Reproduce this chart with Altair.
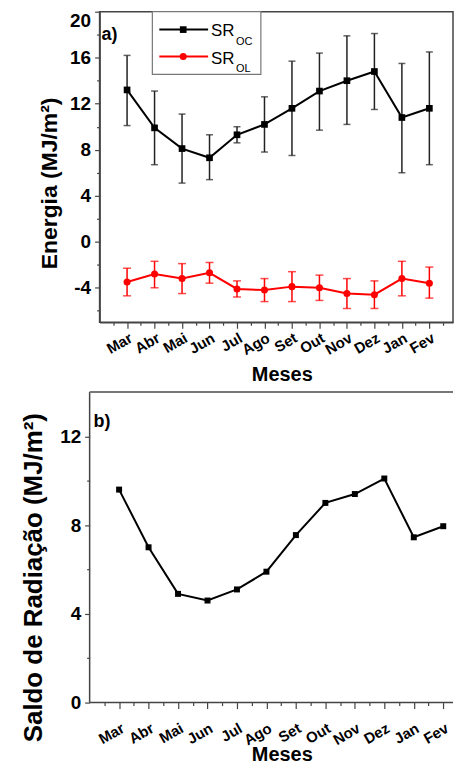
import altair as alt
import pandas as pd

# ---------------- data ----------------
months = ["Mar", "Abr", "Mai", "Jun", "Jul", "Ago", "Set", "Out", "Nov", "Dez", "Jan", "Fev"]
month_idx = list(range(1, 13))

oc_mean = [13.2, 9.9, 8.1, 7.3, 9.3, 10.2, 11.6, 13.1, 14.0, 14.8, 10.8, 11.6]
oc_hi = [16.2, 13.1, 11.1, 9.3, 10.0, 12.6, 15.7, 16.4, 17.9, 18.1, 15.5, 16.5]
oc_lo = [10.1, 6.7, 5.1, 5.4, 8.6, 7.8, 7.5, 9.7, 10.2, 11.5, 6.0, 6.7]

ol_mean = [-3.5, -2.8, -3.2, -2.7, -4.1, -4.2, -3.9, -4.0, -4.5, -4.6, -3.2, -3.6]
ol_hi = [-2.3, -1.7, -1.9, -1.8, -3.4, -3.2, -2.6, -2.9, -3.2, -3.4, -1.7, -2.2]
ol_lo = [-4.7, -4.0, -4.5, -3.6, -4.8, -5.2, -5.2, -5.1, -5.8, -5.8, -4.7, -4.9]

saldo = [9.6, 7.0, 4.9, 4.6, 5.1, 5.9, 7.55, 9.0, 9.4, 10.1, 7.45, 7.95]

df_oc = pd.DataFrame({"m": month_idx, "v": oc_mean, "lo": oc_lo, "hi": oc_hi})
df_ol = pd.DataFrame({"m": month_idx, "v": ol_mean, "lo": ol_lo, "hi": ol_hi})
df_b = pd.DataFrame({"m": month_idx, "v": saldo})
one = pd.DataFrame({"k": [0]})

FONT = "Liberation Sans"
AX = "#444444"
RED = "#ff0000"

labels_js = "[" + ",".join("'%s'" % m for m in months) + "]"
month_expr = ("datum.value % 1 === 0 && datum.value >= 1 && datum.value <= 12 ? "
              + labels_js + "[datum.value - 1] : ''")
half_ticks = [i / 2 for i in range(1, 26)]

def x_axis(label_pad, title_pad, domain=True):
    return alt.Axis(
        values=half_ticks, labelExpr=month_expr, labelAngle=330,
        labelAlign="right", labelBaseline="top", labelFont=FONT,
        labelFontSize=15, labelFontWeight="bold", labelColor="black",
        labelPadding=label_pad, labelOverlap=False, labelBound=False,
        tickSize={"condition": {"test": "datum.value % 1 === 0", "value": 6}, "value": 3},
        tickColor=AX, tickWidth=1.2, domain=domain, domainColor=AX, domainWidth=1.5,
        grid=False, title="Meses", titleFont=FONT, titleFontSize=20,
        titleFontWeight="bold", titleColor="black", titlePadding=title_pad, titleX=183)

def txt(s, x, y, size, weight="normal"):
    return alt.Chart(one).mark_text(text=s, font=FONT, fontSize=size, fontWeight=weight,
                                    align="left", baseline="alphabetic", color="black").encode(
        x=alt.value(x), y=alt.value(y))

# ---------------- panel a ----------------
W_A, H_A = 355, 312
XA_MAX = 12.86
sc_xa = alt.Scale(domain=[0, XA_MAX], nice=False, zero=False)
sc_ya = alt.Scale(domain=[-7, 20], nice=False, zero=False)
xa = alt.X("m:Q", scale=sc_xa, axis=x_axis(2, 7))
ya_axis = alt.Axis(
    values=list(range(-6, 21, 2)),
    labelExpr="datum.value % 4 === 0 ? '' + datum.value : ''",
    labelFont=FONT, labelFontSize=19, labelFontWeight="bold", labelColor="black",
    labelPadding=4, labelFlush=True,
    tickSize={"condition": {"test": "datum.value % 4 === 0", "value": 5}, "value": 3},
    tickColor=AX, tickWidth=1.2, domainColor=AX, domainWidth=1.5, grid=False,
    title="Energia (MJ/m²)", titleFont=FONT, titleFontSize=23, titleFontWeight="bold",
    titleColor="black", titlePadding=8, titleY=172)
ya = alt.Y("v:Q", scale=sc_ya, axis=ya_axis)
ya_lo = alt.Y("lo:Q", scale=sc_ya, axis=ya_axis)

oc_err = alt.Chart(df_oc).mark_errorbar(
    ticks={"size": 7, "thickness": 1.5}, thickness=1.5, color="#222222"
).encode(x=xa, y=ya_lo, y2="hi:Q")
oc_line = alt.Chart(df_oc).mark_line(
    color="black", strokeWidth=2,
    point=alt.OverlayMarkDef(shape="square", size=45, filled=True, color="black", opacity=1)
).encode(x=xa, y=ya)

ol_err = alt.Chart(df_ol).mark_errorbar(
    ticks={"size": 8, "thickness": 1.5}, thickness=1.5, color=RED
).encode(x=xa, y=ya_lo, y2="hi:Q")
ol_line = alt.Chart(df_ol).mark_line(
    color=RED, strokeWidth=2,
    point=alt.OverlayMarkDef(shape="circle", size=50, filled=True, color=RED, opacity=1)
).encode(x=xa, y=ya)

# manual legend (box, sample lines, symbols, labels with subscripts)
leg_box = alt.Chart(one).mark_rect(fill="white", stroke="#777777", strokeWidth=1.2).encode(
    x=alt.value(53), x2=alt.value(162), y=alt.value(0), y2=alt.value(63))
leg_l1 = alt.Chart(one).mark_rule(color="black", strokeWidth=2).encode(
    x=alt.value(60), x2=alt.value(109), y=alt.value(18))
leg_l2 = alt.Chart(one).mark_rule(color=RED, strokeWidth=2).encode(
    x=alt.value(60), x2=alt.value(109), y=alt.value(45))
leg_p1 = alt.Chart(one).mark_point(shape="square", size=45, filled=True, color="black", opacity=1).encode(
    x=alt.value(84), y=alt.value(18))
leg_p2 = alt.Chart(one).mark_point(shape="circle", size=50, filled=True, color=RED, opacity=1).encode(
    x=alt.value(84), y=alt.value(45))
leg_t = [txt("SR", 112, 24, 17), txt("OC", 137, 33, 11),
         txt("SR", 112, 53, 17), txt("OL", 137, 61, 11)]
lab_a = txt("a)", 2, 28, 18, "bold")

panel_a = alt.layer(oc_err, oc_line, ol_err, ol_line, leg_box, leg_l1, leg_l2, leg_p1, leg_p2,
                    *leg_t, lab_a).properties(
    width=W_A, height=H_A,
    view=alt.ViewBackground(stroke=AX, strokeWidth=1.5))

# ---------------- panel b ----------------
W_B, H_B = 355, 312
XB_MIN = 0.338
XB_MAX = XB_MIN + W_B / 29.6
AXIS_OFF = 10
sc_xb = alt.Scale(domain=[XB_MIN, XB_MAX], nice=False, zero=False)
sc_yb = alt.Scale(domain=[0, 14], nice=False, zero=False)
xb = alt.X("m:Q", scale=sc_xb, axis=x_axis(12, -3, domain=False))
yb_axis = alt.Axis(
    values=list(range(0, 13, 2)), offset=AXIS_OFF, domain=False,
    labelExpr="datum.value % 4 === 0 ? '' + datum.value : ''",
    labelFont=FONT, labelFontSize=19, labelFontWeight="bold", labelColor="black",
    labelPadding=4,
    tickSize={"condition": {"test": "datum.value % 4 === 0", "value": 5}, "value": 3},
    tickColor=AX, tickWidth=1.2, grid=False,
    title="Saldo de Radiação (MJ/m²)", titleFont=FONT, titleFontSize=26, titleFontWeight="bold",
    titleColor="black", titlePadding=13, titleY=186)
yb = alt.Y("v:Q", scale=sc_yb, axis=yb_axis)

b_line = alt.Chart(df_b).mark_line(
    color="black", strokeWidth=2,
    point=alt.OverlayMarkDef(shape="square", size=36, filled=True, color="black", opacity=1)
).encode(x=xb, y=yb)
# frame of panel b: left axis line, bottom axis line, top border
b_left = alt.Chart(one).mark_rule(color=AX, strokeWidth=1.5).encode(
    x=alt.value(-AXIS_OFF), y=alt.value(0), y2=alt.value(H_B))
b_bottom = alt.Chart(one).mark_rule(color=AX, strokeWidth=1.5).encode(
    x=alt.value(-AXIS_OFF), x2=alt.value(W_B), y=alt.value(H_B))
b_top = alt.Chart(one).mark_rule(color="#777777", strokeWidth=2).encode(
    x=alt.value(-AXIS_OFF), x2=alt.value(W_B), y=alt.value(0))
lab_b = txt("b)", -6, 35, 18, "bold")

panel_b = alt.layer(b_line, b_left, b_bottom, b_top, lab_b).properties(
    width=W_B, height=H_B,
    view=alt.ViewBackground(strokeWidth=0, stroke="transparent"))

chart = alt.vconcat(panel_a, panel_b, spacing=5).properties(
    padding={"left": 12, "top": 0, "right": 0, "bottom": 0}
).configure_view(strokeWidth=0).configure(font=FONT)

chart.save("out.html", embed_options={"renderer": "svg", "actions": False})
